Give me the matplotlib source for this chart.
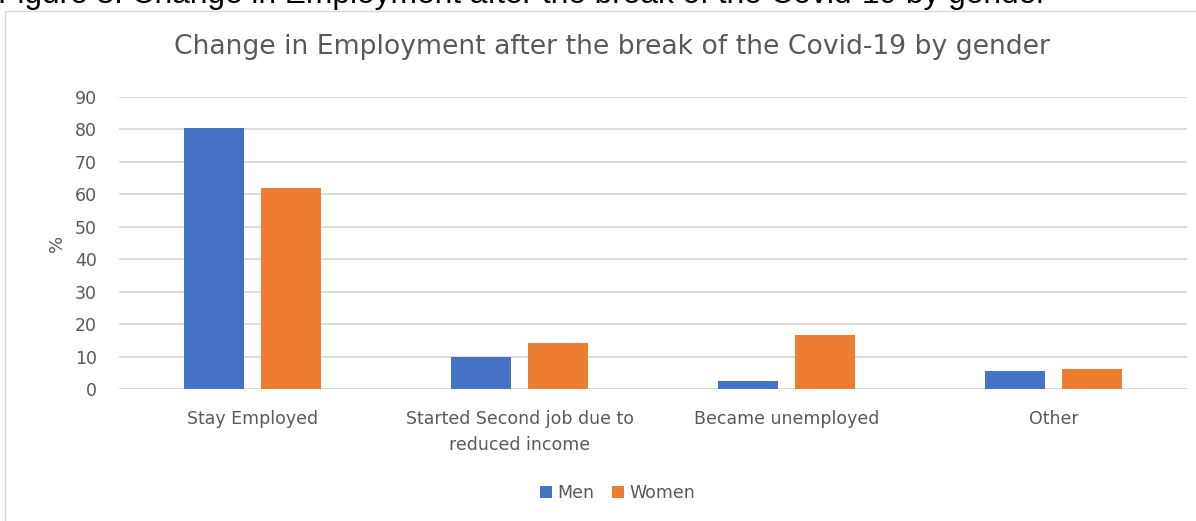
import numpy as np
import matplotlib
matplotlib.use("Agg")
import matplotlib.pyplot as plt
from matplotlib.patches import Rectangle

# survey shares (%) by gender
categories = ["Stay Employed", "Started Second job due to\nreduced income",
              "Became unemployed", "Other"]
men = [80.5, 9.8, 2.6, 5.4]
women = [62.0, 14.2, 16.6, 6.1]
yticks = [0, 10, 20, 30, 40, 50, 60, 70, 80, 90]

blue = "#4472C4"
orange = "#ED7D31"
grey_text = "#595959"

W, H = 1196, 521
fig = plt.figure(figsize=(W / 100, H / 100), dpi=100)
ax = fig.add_axes([119 / W, 1 - 389 / H, 1068 / W, 292 / H])

x = np.arange(len(categories))
w = 0.225
ax.bar(x - 0.145, men, w, color=blue, label="Men", zorder=3)
ax.bar(x + 0.145, women, w, color=orange, label="Women", zorder=3)

ax.set_xlim(-0.5, len(categories) - 0.5)
ax.set_ylim(0, 90)
ax.set_yticks(yticks)
ax.yaxis.grid(True, color="#D9D9D9", linewidth=1.3, zorder=0)
for s in ax.spines.values():
    s.set_visible(False)
ax.tick_params(axis="both", length=0, colors=grey_text, labelsize=12.5)
ax.tick_params(axis="y", pad=16)
ax.tick_params(axis="x", pad=15)
ax.set_xticks(x)
ax.set_xticklabels(categories, linespacing=1.6)
ax.set_ylabel("%", color=grey_text, fontsize=13, labelpad=6)

fig.text(612 / W, 1 - 54 / H,
         "Change in Employment after the break of the Covid-19 by gender",
         fontsize=19.2, color=grey_text, ha="center", va="baseline")

ax.legend(loc="center", bbox_to_anchor=(0.467, -0.355), ncol=2, frameon=False,
          fontsize=12.5, labelcolor=grey_text, handlelength=0.7,
          handleheight=0.7, handletextpad=0.3, columnspacing=1.0)

# chart frame and the document caption above it
fig.patches.append(Rectangle((5 / W, -0.1), 1.2, 1 - 10.5 / H + 0.1,
                             transform=fig.transFigure, fill=False,
                             edgecolor="#D9D9D9", linewidth=1.0))
fig.text(-0.002, 1 - 3 / H,
         "Figure 3: Change in Employment after the break of the Covid-19 by gender",
         fontsize=22.8, family="Liberation Sans", color="black",
         va="baseline", ha="left")

fig.savefig("out.png", dpi=100)
